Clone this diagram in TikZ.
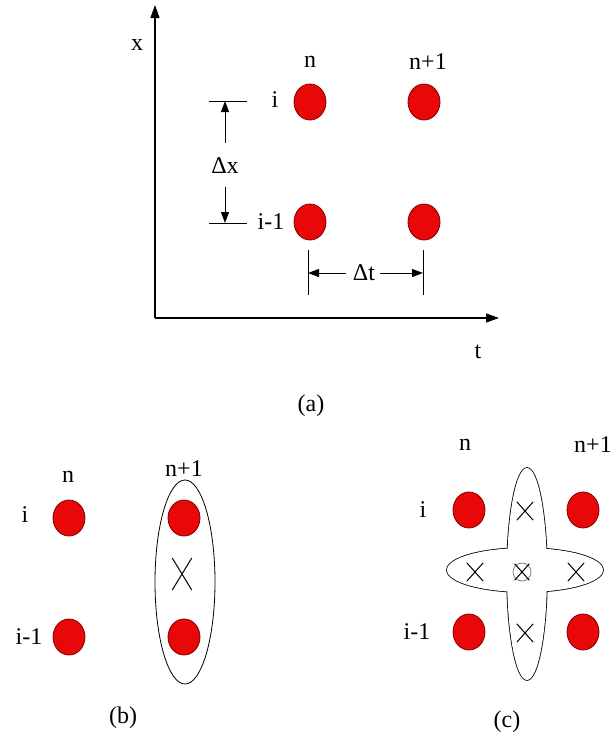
\documentclass[tikz,border=0pt]{standalone}
\usepackage{fontspec}
\setmainfont{Liberation Serif}
\usetikzlibrary{arrows.meta,shapes.geometric}
\definecolor{dotred}{RGB}{232,8,8}
\definecolor{dotedge}{RGB}{130,0,0}
\begin{document}
\begin{tikzpicture}[x=1pt,y=-1pt,
  dot/.style={ellipse, fill=dotred, draw=dotedge, line width=0.8pt, minimum width=32pt, minimum height=36pt, inner sep=0pt},
  lbl/.style={font=\fontsize{24}{26}\selectfont, inner sep=0pt},
  axisline/.style={line width=1.2pt, -{Triangle[length=13pt,width=9pt]}},
  dimline/.style={line width=1pt, -{Triangle[length=11pt,width=8pt]}},
  tickline/.style={line width=0.9pt},
  crossline/.style={line width=1pt, line cap=round},
  xmark/.pic={\draw[crossline] (-8,-9) -- (8,9) (8,-9) -- (-8,9);}]
\useasboundingbox (0,0) rectangle (615,736);

% ---------------- panel (a) ----------------
\coordinate (O) at (155,318);
\coordinate (ytip) at (155,5);
\coordinate (xtip) at (499,318);
\draw[axisline] (O) -- (ytip);
\draw[axisline] (O) -- (xtip);
\node[lbl] (xlab) at (137,45) {x};
\node[lbl] (tlab) at (478,352) {t};

\node[dot] (a11) at (310,102) {};
\node[dot] (a12) at (424,102) {};
\node[dot] (a21) at (310,222) {};
\node[dot] (a22) at (424,222) {};
\node[lbl] (an) at (310,62) {n};
\node[lbl] (an1) at (428,62) {n+1};
\node[lbl] (ai) at (275,100) {i};
\node[lbl] (ai1) at (271,222) {i-1};

% delta x dimension
\coordinate (tx1a) at (209,101);
\coordinate (tx1b) at (247,101);
\coordinate (tx2a) at (209,223);
\coordinate (tx2b) at (247,223);
\draw[tickline] (tx1a) -- (tx1b);
\draw[tickline] (tx2a) -- (tx2b);
\node[lbl] (dx) at (225,166) {Δx};
\coordinate (dxup) at (225,101);
\coordinate (dxdn) at (225,223);
\coordinate (dxs1) at (225,143);
\coordinate (dxs2) at (225,187);
\draw[dimline] (dxs1) -- (dxup);
\draw[dimline] (dxs2) -- (dxdn);

% delta t dimension
\coordinate (tt1a) at (308,250);
\coordinate (tt1b) at (308,295);
\coordinate (tt2a) at (423,250);
\coordinate (tt2b) at (423,295);
\draw[tickline] (tt1a) -- (tt1b);
\draw[tickline] (tt2a) -- (tt2b);
\node[lbl] (dt) at (364,273) {Δt};
\coordinate (dtl) at (308,273);
\coordinate (dtr) at (423,273);
\coordinate (dts1) at (346,273);
\coordinate (dts2) at (380,273);
\draw[dimline] (dts1) -- (dtl);
\draw[dimline] (dts2) -- (dtr);

\node[lbl] (capa) at (311,406) {(a)};

% ---------------- panel (b) ----------------
\node[dot] (b11) at (69,518) {};
\node[dot] (b21) at (69,637) {};
\node[dot] (b12) at (184,518) {};
\node[dot] (b22) at (184,637) {};
\node[lbl] (bn) at (68,477) {n};
\node[lbl] (bn1) at (184,469) {n+1};
\node[lbl] (bi) at (25,515) {i};
\node[lbl] (bi1) at (29,637) {i-1};
\draw[line width=0.8pt] (185,582) ellipse [x radius=30, y radius=102];
\pic[xscale=1.2, yscale=1.75] at (182,574) {xmark};
\node[lbl] (capb) at (123,718) {(b)};

% ---------------- panel (c) ----------------
\node[dot] (c11) at (469,510) {};
\node[dot] (c12) at (583,510) {};
\node[dot] (c21) at (469,632) {};
\node[dot] (c22) at (583,632) {};
\node[lbl] (cn) at (465,445) {n};
\node[lbl] (cn1) at (593,445) {n+1};
\node[lbl] (ci) at (423,510) {i};
\node[lbl] (ci1) at (417,632) {i-1};

\draw[line width=1.6pt] (527,574) ellipse [x radius=20, y radius=106];
\draw[line width=1.6pt] (525,570) ellipse [x radius=78, y radius=22];
\fill[white] (527,574) ellipse [x radius=20, y radius=106];
\fill[white] (525,570) ellipse [x radius=78, y radius=22];

\pic at (525,511) {xmark};
\pic at (475,572) {xmark};
\pic at (576,572) {xmark};
\pic at (525,633) {xmark};
\draw[gray, line width=0.8pt] (522,572) circle [radius=9];
\pic[scale=0.9] at (522,572) {xmark};
\node[lbl] (capc) at (507,722) {(c)};
\end{tikzpicture}
\end{document}
